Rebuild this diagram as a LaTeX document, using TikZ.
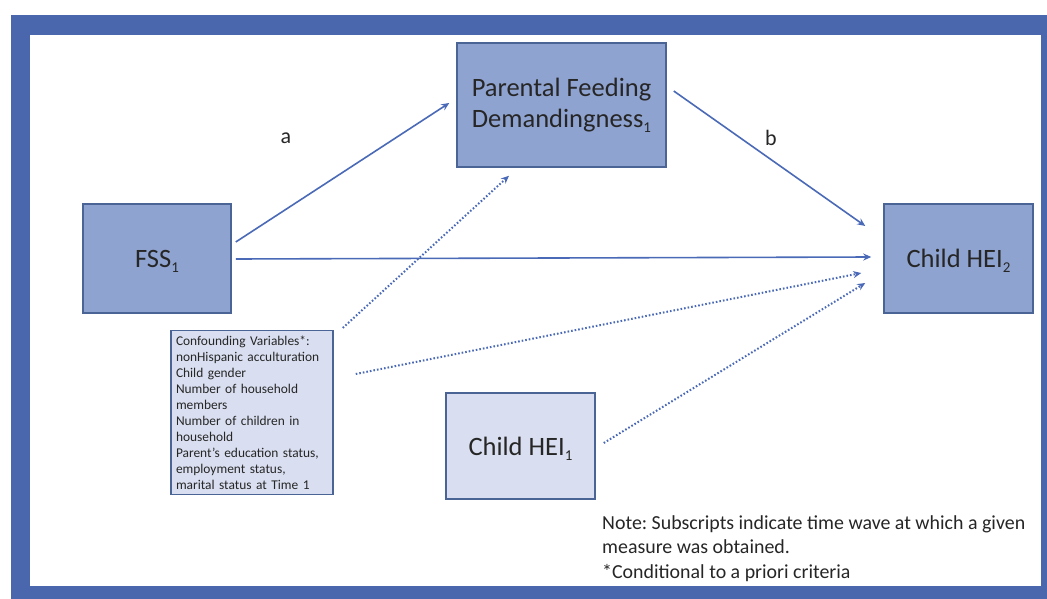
\documentclass[tikz,border=0pt]{standalone}
\usepackage{fontspec}
\setmainfont{Carlito}
\usetikzlibrary{calc,arrows.meta}
\frenchspacing
\definecolor{framebl}{HTML}{4A67AE}
\definecolor{darkfill}{HTML}{8FA3D0}
\definecolor{lightfill}{HTML}{D9DFF0}
\definecolor{boxline}{HTML}{4B6496}
\definecolor{arrcol}{HTML}{4A6AB8}
\newcommand{\lowidx}[1]{\raisebox{-0.2em}[0pt][0pt]{\fontsize{15}{15}\selectfont #1}}
\tikzset{
  bigbox/.style={draw=boxline, line width=1.5pt, fill=darkfill, align=center, inner sep=0pt, font=\fontsize{26.5}{31}\selectfont, text=black!85},
  lightbox/.style={bigbox, fill=lightfill},
  arr/.style={draw=arrcol, line width=1.6pt, -{Stealth[length=8pt,width=7pt]}},
  dotarr/.style={arr, dotted, line width=2pt},
  lbl/.style={font=\fontsize{22}{26}\selectfont, text=black!85}
}
\begin{document}
\frenchspacing
\begin{tikzpicture}[x=1pt,y=-1pt]
\useasboundingbox (0,0) rectangle (1047,599);
\fill[framebl] (11,15) rectangle (1047,599);
\fill[white] (30,35) rectangle (1041,586);

\node[bigbox, minimum width=209, minimum height=124] (pfd) at (561.5,105) {Parental Feeding\\Demandingness\lowidx{1}};
\node[bigbox, minimum width=148, minimum height=109] (fss) at (157,258.5) {FSS\lowidx{1}};
\node[bigbox, minimum width=149, minimum height=109] (hei2) at (958.5,258.5) {Child HEI\lowidx{2}};
\node[lightbox, minimum width=149, minimum height=106] (hei1) at (520.5,446) {Child HEI\lowidx{1}};
\node[draw=boxline, line width=1.5pt, fill=lightfill, minimum width=162, minimum height=161, text width=152, align=left, inner sep=5pt, font=\fontsize{13.4}{16}\selectfont, text=black!85] (conf) at (252,412.5) {\frenchspacing Confounding Variables*:\\nonHispanic acculturation\\Child gender\\Number of household\\members\\Number of children in\\household\\Parent's education status,\\employment status,\\marital status at Time 1};

\node[lbl] (la) at (286,138) {a};
\node[lbl] (lb) at (771,138) {b};

\node[anchor=north west, align=left, inner sep=0pt, font=\fontsize{19.9}{24.5}\selectfont, text=black!85] (note) at (602,515) {\frenchspacing Note: Subscripts indicate time wave at which a given\\measure was obtained.\\*Conditional to a priori criteria};

\draw[arr] ($(fss.east)+(4,-16.5)$) -- ($(pfd.west)+(-7,-2)$);
\draw[arr] ($(pfd.east)+(7,-14)$) -- ($(hei2.west)+(-18,-32.5)$);
\draw[arr] ($(fss.east)+(4,0.5)$) -- ($(hei2.west)+(-12,-1.5)$);
\draw[dotarr] ($(conf.north east)+(9,-2)$) -- ($(pfd.south)+(-52.5,8)$);
\draw[dotarr] ($(conf.east)+(22,-38.5)$) -- ($(hei2.west)+(-22,14.5)$);
\draw[dotarr] ($(hei1.east)+(8,-3)$) -- ($(hei2.west)+(-18,24.5)$);
\end{tikzpicture}
\end{document}
